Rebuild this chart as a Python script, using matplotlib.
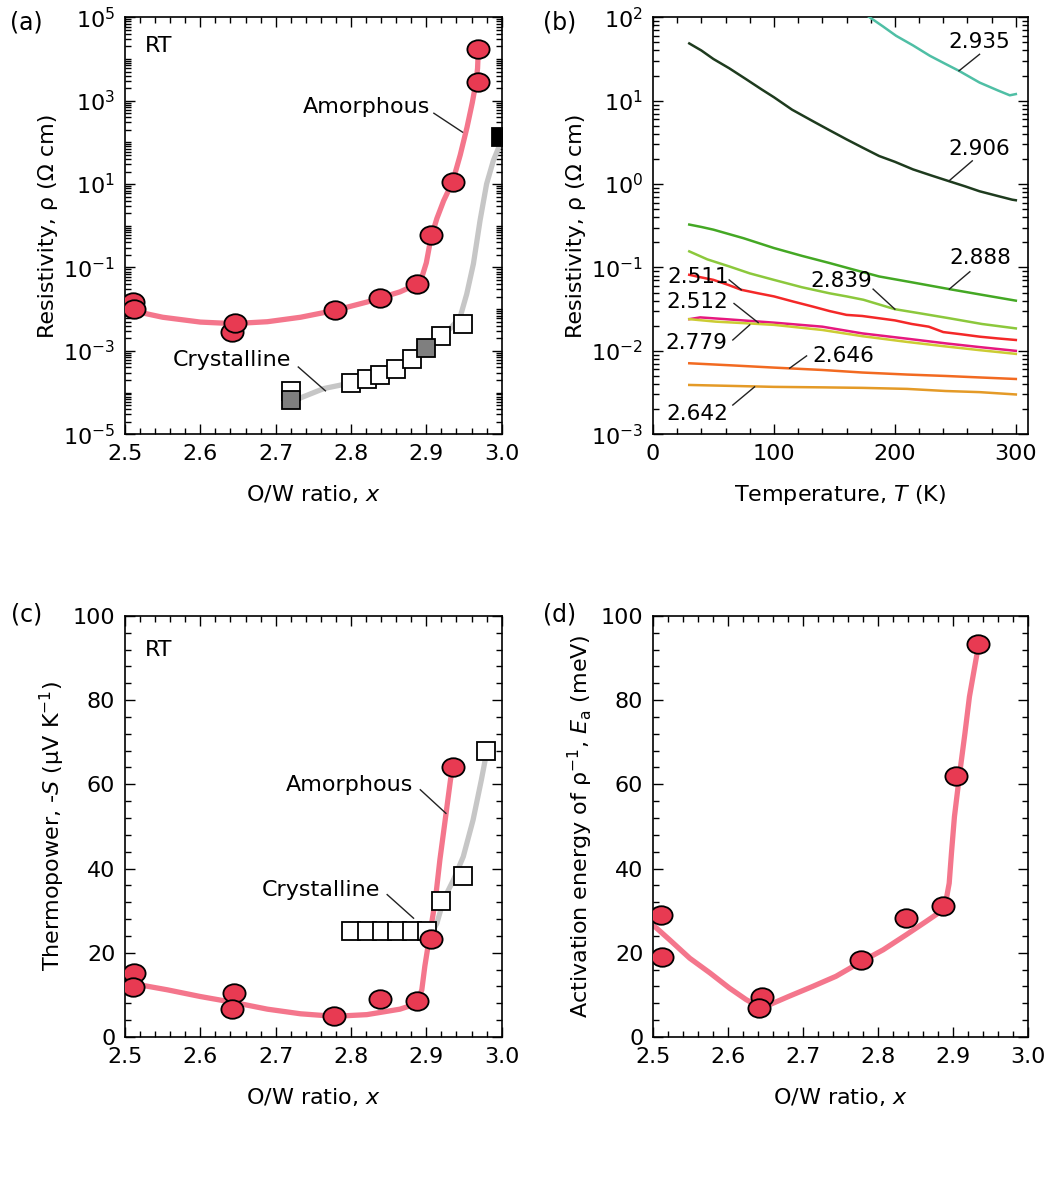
import numpy as np
import matplotlib
matplotlib.use('Agg')
import matplotlib.pyplot as plt
from matplotlib.path import Path
from matplotlib.transforms import Affine2D
from matplotlib.ticker import FixedLocator, MultipleLocator, LogLocator, LogFormatterMathtext, NullFormatter

plt.rcParams['font.family'] = ['DejaVu Sans']
plt.rcParams['mathtext.fontset'] = 'dejavusans'
plt.rcParams['font.size'] = 16

# ---- (a) resistivity at RT vs x ----
a_amor_x = [2.511, 2.512, 2.642, 2.646, 2.779, 2.839, 2.888, 2.906, 2.935, 2.968, 2.969]
a_amor_y = [1.45e-2, 1.0e-2, 2.8e-3, 4.6e-3, 9.3e-3, 1.85e-2, 4.0e-2, 0.61, 11.5, 2.8e3, 1.7e4]
a_amor_curve_x = [2.50, 2.55, 2.60, 2.644, 2.689, 2.733, 2.778, 2.821, 2.865, 2.888, 2.894,
                  2.900, 2.906, 2.914, 2.923, 2.935, 2.945, 2.954, 2.961, 2.966, 2.968, 2.969]
a_amor_curve_y = [1.0e-2, 6.4e-3, 4.9e-3, 4.5e-3, 5.0e-3, 6.4e-3, 9.3e-3, 1.48e-2, 2.6e-2, 4.0e-2,
                  5.8e-2, 0.13, 0.5, 1.5, 4.0, 11.5, 50, 230, 900, 2800, 6000, 1.7e4]
a_cry_open_x = [2.72, 2.80, 2.821, 2.839, 2.86, 2.881, 2.919, 2.949]
a_cry_open_y = [1.1e-4, 1.7e-4, 2.1e-4, 2.6e-4, 3.7e-4, 6.5e-4, 2.3e-3, 4.5e-3]
a_cry_gray_x = [2.72, 2.90]
a_cry_gray_y = [6.5e-5, 1.2e-3]
a_cry_black_x = [2.999]
a_cry_black_y = [133]
a_cry_curve_x = [2.72, 2.764, 2.80, 2.843, 2.879, 2.909, 2.9315, 2.9448, 2.9536, 2.9625,
                 2.9713, 2.980, 2.989, 2.998]
a_cry_curve_y = [6e-5, 1.25e-4, 1.7e-4, 2.8e-4, 6e-4, 1.5e-3, 3.4e-3, 6.4e-3, 2.3e-2, 0.123,
                 1.34, 10.1, 36.8, 92]

# ---- (b) resistivity vs temperature ----
b_labels = ['2.935', '2.906', '2.888', '2.839', '2.511', '2.512', '2.779', '2.646', '2.642']
b_colors = ['#4fbfa5', '#1e3b1e', '#44a824', '#8cc83c', '#f42828', '#e6187f', '#cccc33', '#f26a21', '#e49a27']
b_T = [
    [175, 190, 201, 215, 229, 241, 253, 270, 285, 295, 300],
    [30, 40, 50, 63, 77, 90, 100, 115, 132, 145, 160, 173, 187, 200, 215, 230, 245, 258, 270, 285, 297, 300],
    [30, 40, 50, 75, 100, 123, 146, 165, 187, 215, 245, 272, 300],
    [30, 45, 63, 80, 100, 123, 146, 160, 174, 200, 222, 245, 272, 300],
    [30, 40, 50, 62, 73, 87, 100, 116, 132, 146, 160, 173, 187, 200, 214, 228, 240, 255, 270, 285, 300],
    [30, 39, 60, 100, 140, 173, 210, 242, 270, 300],
    [30, 52, 75, 100, 140, 173, 210, 242, 270, 300],
    [30, 65, 100, 140, 173, 210, 242, 270, 300],
    [30, 65, 100, 140, 173, 210, 242, 270, 300],
]
b_rho = [
    [110, 78, 60, 46, 34.5, 28, 22.8, 16.5, 13.3, 11.6, 12],
    [48.6, 40, 31.6, 24.5, 18.1, 13.6, 11.0, 7.8, 5.7, 4.5, 3.44, 2.75, 2.17, 1.85, 1.5, 1.27, 1.08,
     0.94, 0.82, 0.72, 0.65, 0.64],
    [0.327, 0.306, 0.284, 0.224, 0.171, 0.138, 0.113, 0.095, 0.078, 0.066, 0.055, 0.047, 0.040],
    [0.156, 0.125, 0.103, 0.085, 0.071, 0.058, 0.049, 0.045, 0.041, 0.0316, 0.028, 0.0246, 0.021, 0.0186],
    [0.0817, 0.076, 0.071, 0.062, 0.054, 0.049, 0.045, 0.039, 0.034, 0.030, 0.027, 0.0262, 0.0246,
     0.0232, 0.021, 0.0195, 0.0168, 0.0158, 0.0148, 0.0141, 0.0135],
    [0.024, 0.0252, 0.0240, 0.0218, 0.0195, 0.0162, 0.0140, 0.0123, 0.0111, 0.0100],
    [0.024, 0.0224, 0.0215, 0.0205, 0.0178, 0.0150, 0.0128, 0.0113, 0.0102, 0.0092],
    [0.0071, 0.0067, 0.0063, 0.0059, 0.0055, 0.0052, 0.0050, 0.0048, 0.0046],
    [0.0039, 0.0038, 0.0037, 0.00365, 0.0036, 0.0035, 0.0033, 0.0032, 0.0030],
]
# label text position, pointer start, pointer end
b_text_pos = [(270, 51), (270, 2.6), (271, 0.13), (156, 0.069), (37, 0.076), (37, 0.039),
              (36, 0.0123), (157, 0.0087), (37, 0.00174)]
b_ptr_from = [(270, 36), (264, 1.9), (262, 0.089), (182, 0.055), (63, 0.071), (67, 0.037),
              (66, 0.0135), (127, 0.0087), (66, 0.00224)]
b_ptr_to = [(253, 22.8), (245, 1.1), (245, 0.055), (200, 0.0316), (73, 0.054), (87, 0.0218),
            (80, 0.0205), (113, 0.0062), (84, 0.0037)]

# ---- (c) thermopower ----
c_amor_x = [2.512, 2.511, 2.645, 2.642, 2.778, 2.839, 2.888, 2.906, 2.935]
c_amor_y = [15.2, 11.8, 10.4, 6.6, 4.9, 8.9, 8.6, 23.2, 64.0]
c_amor_curve_x = [2.50, 2.556, 2.600, 2.644, 2.689, 2.733, 2.778, 2.821, 2.865, 2.887, 2.894,
                  2.898, 2.905, 2.912, 2.918, 2.925, 2.932, 2.935]
c_amor_curve_y = [13.0, 11.2, 9.6, 8.2, 6.6, 5.5, 4.9, 5.3, 6.6, 7.9, 11.2, 16.8, 24.7, 32.6,
                  42.1, 51.5, 61.0, 64.0]
c_cry_x = [2.80, 2.821, 2.841, 2.861, 2.881, 2.901, 2.919, 2.949, 2.979]
c_cry_y = [25.2, 25.2, 25.2, 25.2, 25.2, 25.2, 32.3, 38.3, 68.0]
c_cry_curve_x = [2.905, 2.914, 2.923, 2.936, 2.949, 2.962, 2.973, 2.979]
c_cry_curve_y = [24.0, 27.0, 32.6, 37.3, 42.8, 51.5, 61.0, 66.6]

# ---- (d) activation energy ----
d_x = [2.511, 2.512, 2.645, 2.641, 2.778, 2.837, 2.887, 2.904, 2.933]
d_y = [29.0, 19.1, 9.5, 6.9, 18.3, 28.2, 31.1, 62.0, 93.4]
d_curve_x = [2.50, 2.522, 2.549, 2.576, 2.602, 2.624, 2.642, 2.656, 2.682, 2.713, 2.744, 2.778,
             2.807, 2.838, 2.864, 2.887, 2.891, 2.895, 2.898, 2.902, 2.909, 2.916, 2.922, 2.929, 2.933]
d_curve_y = [26.6, 23.1, 18.7, 15.2, 11.6, 8.9, 7.1, 7.7, 9.7, 12.0, 14.4, 17.9, 20.7, 24.3, 27.4,
             30.2, 32.6, 36.5, 43.6, 52.3, 62.6, 72.1, 80.8, 87.9, 91.9]

RED = '#e83a52'
PINK = '#f4768c'
GRAY_LINE = '#c6c6c6'

ellipse = Path.unit_circle().transformed(Affine2D().scale(1.2, 1.0))


def circles(ax, x, y):
    ax.plot(x, y, linestyle='none', marker=ellipse, markersize=16, markerfacecolor=RED,
            markeredgecolor='black', markeredgewidth=1.3, zorder=5)


def squares(ax, x, y, fc):
    ax.plot(x, y, linestyle='none', marker='s', markersize=13, markerfacecolor=fc,
            markeredgecolor='black', markeredgewidth=1.3, zorder=5)


def style(ax):
    ax.tick_params(which='both', direction='in', top=True, right=True, labelsize=16, pad=7)
    ax.tick_params(which='major', length=7, width=1)
    ax.tick_params(which='minor', length=4, width=1)
    for s in ax.spines.values():
        s.set_linewidth(1.2)


def pointer(ax, p0, p1):
    ax.plot([p0[0], p1[0]], [p0[1], p1[1]], color='#222222', lw=1.0, zorder=6)


fig = plt.figure(figsize=(10.64, 11.93), dpi=100)
axa = fig.add_axes([0.1175, 0.636, 0.354, 0.3495])
axb = fig.add_axes([0.6137, 0.636, 0.3524, 0.3495])
axc = fig.add_axes([0.1175, 0.1308, 0.354, 0.353])
axd = fig.add_axes([0.6137, 0.1308, 0.3524, 0.353])

# (a)
axa.set_yscale('log')
axa.plot(a_amor_curve_x, a_amor_curve_y, color=PINK, lw=3.8, solid_capstyle='round', zorder=2)
axa.plot(a_cry_curve_x, a_cry_curve_y, color=GRAY_LINE, lw=3.8, solid_capstyle='round', zorder=2)
squares(axa, a_cry_open_x, a_cry_open_y, 'white')
squares(axa, a_cry_gray_x, a_cry_gray_y, '#7f7f7f')
squares(axa, a_cry_black_x, a_cry_black_y, 'black')
circles(axa, a_amor_x, a_amor_y)
axa.set_xlim(2.5, 3.0)
axa.set_ylim(1e-5, 1e5)
axa.yaxis.set_major_locator(FixedLocator([1e-5, 1e-3, 1e-1, 1e1, 1e3, 1e5]))
axa.yaxis.set_major_formatter(LogFormatterMathtext())
axa.yaxis.set_minor_locator(LogLocator(base=10, subs=np.arange(1, 10), numticks=100))
axa.yaxis.set_minor_formatter(NullFormatter())
axa.xaxis.set_major_locator(MultipleLocator(0.1))
axa.xaxis.set_minor_locator(MultipleLocator(0.02))
axa.xaxis.set_major_formatter(plt.FuncFormatter(lambda v, p: f'{v:.1f}'))
axa.text(2.527, 2e4, 'RT', fontsize=16, va='center')
axa.text(2.905, 720, 'Amorphous', ha='right', va='center', fontsize=16)
pointer(axa, (2.91, 500), (2.948, 176))
axa.text(2.72, 6.1e-4, 'Crystalline', ha='right', va='center', fontsize=16)
pointer(axa, (2.73, 4.1e-4), (2.766, 1.1e-4))
axa.set_xlabel('O/W ratio, $x$', fontsize=16, labelpad=14)
axa.set_ylabel('Resistivity, ρ (Ω cm)', fontsize=16)
style(axa)

# (b)
axb.set_yscale('log')
for T, r, c in zip(b_T, b_rho, b_colors):
    axb.plot(T, r, color=c, lw=1.8, zorder=3)
for lab, tp, p0, p1 in zip(b_labels, b_text_pos, b_ptr_from, b_ptr_to):
    axb.text(tp[0], tp[1], lab, ha='center', va='center', fontsize=15.5, zorder=7)
    pointer(axb, p0, p1)
axb.set_xlim(0, 310)
axb.set_ylim(1e-3, 1e2)
axb.yaxis.set_major_locator(LogLocator(base=10, numticks=20))
axb.yaxis.set_major_formatter(LogFormatterMathtext())
axb.yaxis.set_minor_locator(LogLocator(base=10, subs=np.arange(2, 10), numticks=100))
axb.yaxis.set_minor_formatter(NullFormatter())
axb.xaxis.set_major_locator(MultipleLocator(100))
axb.xaxis.set_minor_locator(MultipleLocator(20))
axb.set_xlabel('Temperature, $T$ (K)', fontsize=16, labelpad=14)
axb.set_ylabel('Resistivity, ρ (Ω cm)', fontsize=16)
style(axb)

# (c)
axc.plot(c_amor_curve_x, c_amor_curve_y, color=PINK, lw=3.8, solid_capstyle='round', zorder=2)
axc.plot(c_cry_curve_x, c_cry_curve_y, color=GRAY_LINE, lw=3.8, solid_capstyle='round', zorder=1)
squares(axc, c_cry_x, c_cry_y, 'white')
circles(axc, c_amor_x, c_amor_y)
axc.set_xlim(2.5, 3.0)
axc.set_ylim(0, 100)
axc.yaxis.set_major_locator(MultipleLocator(20))
axc.yaxis.set_minor_locator(MultipleLocator(4))
axc.xaxis.set_major_locator(MultipleLocator(0.1))
axc.xaxis.set_minor_locator(MultipleLocator(0.02))
axc.xaxis.set_major_formatter(plt.FuncFormatter(lambda v, p: f'{v:.1f}'))
axc.text(2.527, 92, 'RT', fontsize=16, va='center')
axc.text(2.882, 59.8, 'Amorphous', ha='right', va='center', fontsize=16)
pointer(axc, (2.892, 58.7), (2.926, 53.1))
axc.text(2.838, 34.9, 'Crystalline', ha='right', va='center', fontsize=16)
pointer(axc, (2.848, 33.8), (2.883, 28.2))
axc.set_xlabel('O/W ratio, $x$', fontsize=16, labelpad=14)
axc.set_ylabel('Thermopower, -$S$ (μV K$^{-1}$)', fontsize=16)
style(axc)

# (d)
axd.plot(d_curve_x, d_curve_y, color=PINK, lw=3.8, solid_capstyle='round', zorder=2)
circles(axd, d_x, d_y)
axd.set_xlim(2.5, 3.0)
axd.set_ylim(0, 100)
axd.yaxis.set_major_locator(MultipleLocator(20))
axd.yaxis.set_minor_locator(MultipleLocator(4))
axd.xaxis.set_major_locator(MultipleLocator(0.1))
axd.xaxis.set_minor_locator(MultipleLocator(0.02))
axd.xaxis.set_major_formatter(plt.FuncFormatter(lambda v, p: f'{v:.1f}'))
axd.set_xlabel('O/W ratio, $x$', fontsize=16, labelpad=14)
axd.set_ylabel('Activation energy of ρ$^{-1}$, $E_{\\rm a}$ (meV)', fontsize=16)
style(axd)

for lab, xx, yy in [('(a)', 0.025, 0.981), ('(b)', 0.526, 0.981), ('(c)', 0.025, 0.4845), ('(d)', 0.526, 0.4845)]:
    fig.text(xx, yy, lab, fontsize=17, ha='center', va='center')

fig.savefig('out.png', dpi=100)
